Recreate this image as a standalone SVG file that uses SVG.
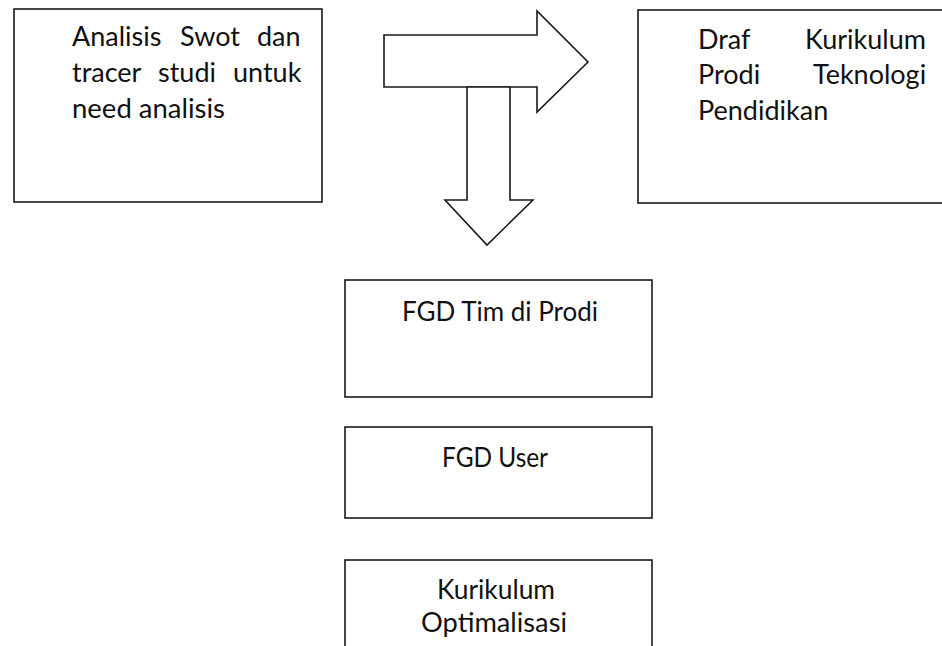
<svg xmlns="http://www.w3.org/2000/svg" width="942" height="646" viewBox="0 0 942 646">
<style>
.box{fill:#fff;stroke:#1a1a1a;stroke-width:1.6}
.arr{fill:#fff;stroke:#1a1a1a;stroke-width:1.6;stroke-linejoin:miter}
text{font-family:Lato,"Open Sans",sans-serif;font-size:27px;fill:#111}
.c{text-anchor:middle}
</style>
<rect width="942" height="646" fill="#fff"/>
<g id="node-analisis">
<rect class="box" x="14" y="9" width="308" height="193"/>
<text y="46"><tspan x="72">Analisis</tspan><tspan x="180">Swot</tspan><tspan x="257">dan</tspan></text>
<text y="82"><tspan x="72">tracer</tspan><tspan x="158">studi</tspan><tspan x="233">untuk</tspan></text>
<text x="72" y="118" textLength="153" lengthAdjust="spacingAndGlyphs">need analisis</text>
</g>
<g id="node-draf">
<rect class="box" x="638" y="10" width="310" height="193"/>
<text y="49"><tspan x="698">Draf</tspan><tspan x="805">Kurikulum</tspan></text>
<text y="84"><tspan x="698">Prodi</tspan><tspan x="813">Teknologi</tspan></text>
<text x="698" y="120">Pendidikan</text>
</g>
<g id="connectors">
<path class="arr" d="M384,35 L537,35 L537,11 L588,62 L537,112 L537,87 L384,87 Z"/>
<path class="arr" d="M467,87 L510,87 L510,200 L533,200 L487,245 L445,200 L467,200 Z"/>
</g>
<g id="node-fgd-tim">
<rect class="box" x="345" y="280" width="307" height="117"/>
<text class="c" x="500" y="321" textLength="196" lengthAdjust="spacingAndGlyphs">FGD Tim di Prodi</text>
</g>
<g id="node-fgd-user">
<rect class="box" x="345" y="427" width="307" height="91"/>
<text class="c" x="495" y="467" textLength="106" lengthAdjust="spacingAndGlyphs">FGD User</text>
</g>
<g id="node-kurikulum">
<rect class="box" x="345" y="560" width="307" height="100"/>
<text class="c" x="496" y="599" textLength="118" lengthAdjust="spacingAndGlyphs">Kurikulum</text>
<text class="c" x="494" y="632" textLength="146" lengthAdjust="spacingAndGlyphs">Optimalisasi</text>
</g>
</svg>
